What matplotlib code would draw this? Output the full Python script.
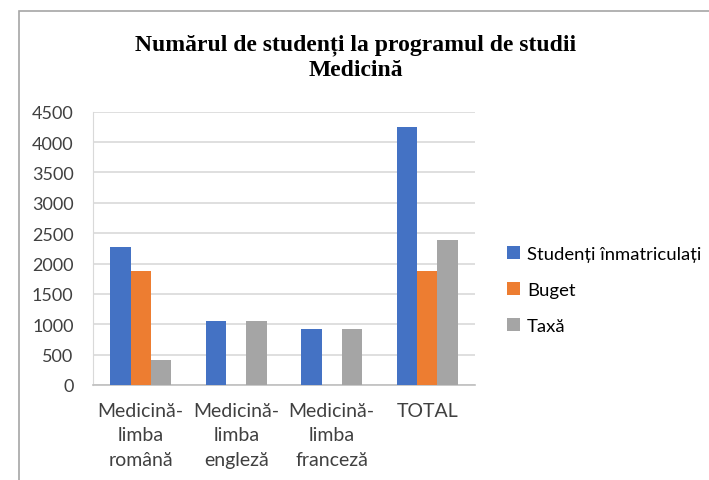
import matplotlib
matplotlib.use("Agg")
import matplotlib.pyplot as plt
from matplotlib.patches import Rectangle
import numpy as np

categorii = ["Medicină-\nlimba\nromână", "Medicină-\nlimba\nengleză",
             "Medicină-\nlimba\nfranceză", "TOTAL"]
serii = ["Studenți înmatriculați", "Buget", "Taxă"]
inmatriculati = [2275, 1055, 925, 4255]
buget = [1870, 0, 0, 1870]
taxa = [405, 1055, 925, 2385]
culori = ["#4472c4", "#ed7d31", "#a5a5a5"]

fig = plt.figure(figsize=(7.09, 4.81), dpi=100)
ax = fig.add_axes([93 / 709, 95 / 481, 382 / 709, 273.3 / 481])

x = np.arange(len(categorii))
w = 0.213
for i, (vals, nume) in enumerate(zip([inmatriculati, buget, taxa], serii)):
    ax.bar(x + (i - 1) * w, vals, w, color=culori[i], label=nume, zorder=3)

ax.set_xlim(-0.5, 3.5)
ax.set_ylim(0, 4500)
ax.set_yticks(range(0, 4501, 500))
ax.grid(axis="y", color="#d9d9d9", linewidth=1.2, zorder=0)
for s in ["top", "right"]:
    ax.spines[s].set_visible(False)
ax.spines["left"].set_color("#d9d9d9")
ax.spines["bottom"].set_color("#bfbfbf")
ax.spines["bottom"].set_linewidth(1.2)
ax.tick_params(length=0, colors="#404040")
ax.tick_params(axis="y", pad=14, labelsize=13)
ax.tick_params(axis="x", pad=12, labelsize=14)
ax.set_xticks(x)
ax.set_xticklabels(categorii, family="Lato", linespacing=1.55)
for t in ax.get_yticklabels():
    t.set_family("Lato")

fig.text(356 / 709, 1 - 58 / 481, "Numărul de studenți la programul de studii\nMedicină",
         ha="center", va="center", family="Liberation Serif", weight="bold",
         fontsize=17, linespacing=1.25)

ax.legend(loc="center left", bbox_to_anchor=(507 / 709, 1 - 291 / 481),
          bbox_transform=fig.transFigure, frameon=False,
          prop={"family": "Lato", "size": 13.3}, handlelength=0.72, handleheight=0.72,
          handletextpad=0.35, labelspacing=1.08, borderpad=0, borderaxespad=0)

fig.patches.append(Rectangle((19 / 709, -0.1), 1.2, 1.1 - 12 / 481, transform=fig.transFigure,
                             fill=False, edgecolor="#a6a6a6", linewidth=1.2))

fig.savefig("out.png", dpi=100)
